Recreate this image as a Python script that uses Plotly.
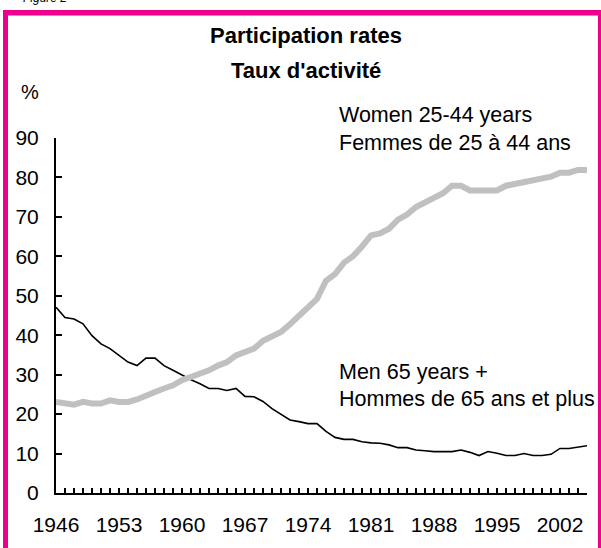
import plotly.graph_objects as go

years = list(range(1946, 2006))

men_65_plus = [47.1, 44.5, 44.1, 42.9, 39.9, 37.8, 36.6, 34.9, 33.2, 32.3,
               34.2, 34.2, 32.3, 31.1, 29.8, 28.7, 27.7, 26.5, 26.5, 26.0,
               26.5, 24.5, 24.4, 23.2, 21.4, 20.0, 18.5, 18.1, 17.6, 17.6,
               15.6, 14.1, 13.6, 13.6, 13.0, 12.7, 12.6, 12.2, 11.5, 11.5,
               10.9, 10.7, 10.5, 10.5, 10.5, 10.9, 10.3, 9.5, 10.5, 10.1,
               9.5, 9.5, 10.0, 9.5, 9.5, 9.8, 11.3, 11.3, 11.6, 12.0]

women_25_44 = [23.1, 22.9, 22.4, 23.1, 22.7, 22.7, 23.5, 23.1, 23.1, 23.7,
               24.8, 25.6, 26.5, 27.3, 28.6, 29.4, 30.0, 31.1, 32.3, 33.2,
               34.9, 35.8, 36.6, 38.6, 39.8, 40.8, 42.8, 45.0, 47.0, 49.2,
               53.8, 55.5, 58.4, 60.0, 62.5, 65.3, 65.8, 67.0, 69.3, 70.6,
               72.5, 73.7, 75.2, 76.0, 77.9, 77.9, 76.7, 76.7, 76.7, 76.7,
               77.9, 78.4, 78.9, 79.4, 79.8, 80.2, 81.2, 81.2, 81.9, 81.9]

y_ticks = [0, 10, 20, 30, 40, 50, 60, 70, 80, 90]
x_tick_text = [str(y) if (y - 1946) % 7 == 0 else "" for y in years]

W, H = 601, 548
L, T = 56, 138
PW, PH = 531, 357
R = W - L - PW
B = H - T - PH

def px(x):  # pixel -> paper x
    return (x - L) / PW

def py(y):  # pixel -> paper y
    return (H - B - y) / PH

FONT = "Liberation Sans, Arial, sans-serif"
PINK = "#EC008C"

fig = go.Figure()
fig.add_trace(go.Scatter(x=years, y=men_65_plus, mode="lines",
                         line=dict(color="black", width=1.6), showlegend=False,
                         hoverinfo="skip"))
fig.add_trace(go.Scatter(x=years, y=women_25_44, mode="lines",
                         line=dict(color="#C0C0C0", width=6), showlegend=False,
                         hoverinfo="skip"))

ann = []
def add_text(text, x, y, size, xanchor="left", yanchor="middle", bold=False, italic=False):
    t = f"<b>{text}</b>" if bold else text
    if italic:
        t = f"<i>{t}</i>"
    ann.append(dict(text=t, x=px(x), y=py(y), xref="paper", yref="paper",
                    xanchor=xanchor, yanchor=yanchor, showarrow=False,
                    font=dict(family=FONT, size=size, color="black")))

add_text("Figure 2", 21, 6, 12, yanchor="bottom", italic=True)
add_text("Participation rates", 306, 35, 22, xanchor="center", bold=True)
add_text("Taux d'activité", 306, 70, 22, xanchor="center", bold=True)
add_text("%", 30, 92, 20, xanchor="center")
add_text("Women 25-44 years", 337, 115, 21.5)
add_text("Femmes de 25 à 44 ans", 337, 143, 21.5)
add_text("Men 65 years +", 337, 373, 21.5)
add_text("Hommes de 65 ans et plus", 337, 400, 21.5)

shapes = [
    dict(type="line", xref="paper", yref="paper", x0=px(5.5), x1=px(5.5), y0=py(9.5), y1=py(560),
         line=dict(color=PINK, width=5)),
    dict(type="line", xref="paper", yref="paper", x0=px(3), x1=px(601), y0=py(12), y1=py(12),
         line=dict(color=PINK, width=5.5)),
    dict(type="line", xref="paper", yref="paper", x0=px(599.5), x1=px(599.5), y0=py(9.5), y1=py(560),
         line=dict(color=PINK, width=3)),
]

fig.update_layout(
    width=W, height=H,
    margin=dict(l=L, r=R, t=T, b=B),
    paper_bgcolor="white", plot_bgcolor="white",
    font=dict(family=FONT, size=21, color="black"),
    annotations=ann, shapes=shapes,
    hovermode=False,
    xaxis=dict(range=[1946, 2005], tickvals=years, ticktext=x_tick_text,
               ticks="inside", ticklen=5, tickwidth=1.5, tickcolor="black",
               showline=True, linecolor="black", linewidth=2, showgrid=False,
               zeroline=False, tickfont=dict(size=21), ticklabelstandoff=12),
    yaxis=dict(range=[0, 90], tickvals=y_ticks, ticks="inside", ticklen=6,
               tickwidth=2, tickcolor="black", showline=True, linecolor="black",
               linewidth=2, showgrid=False, zeroline=False, tickfont=dict(size=21),
               ticklabelstandoff=11),
)

fig.write_html("out.html", config={"displayModeBar": False},
               post_script="document.body.style.margin='0px';")
